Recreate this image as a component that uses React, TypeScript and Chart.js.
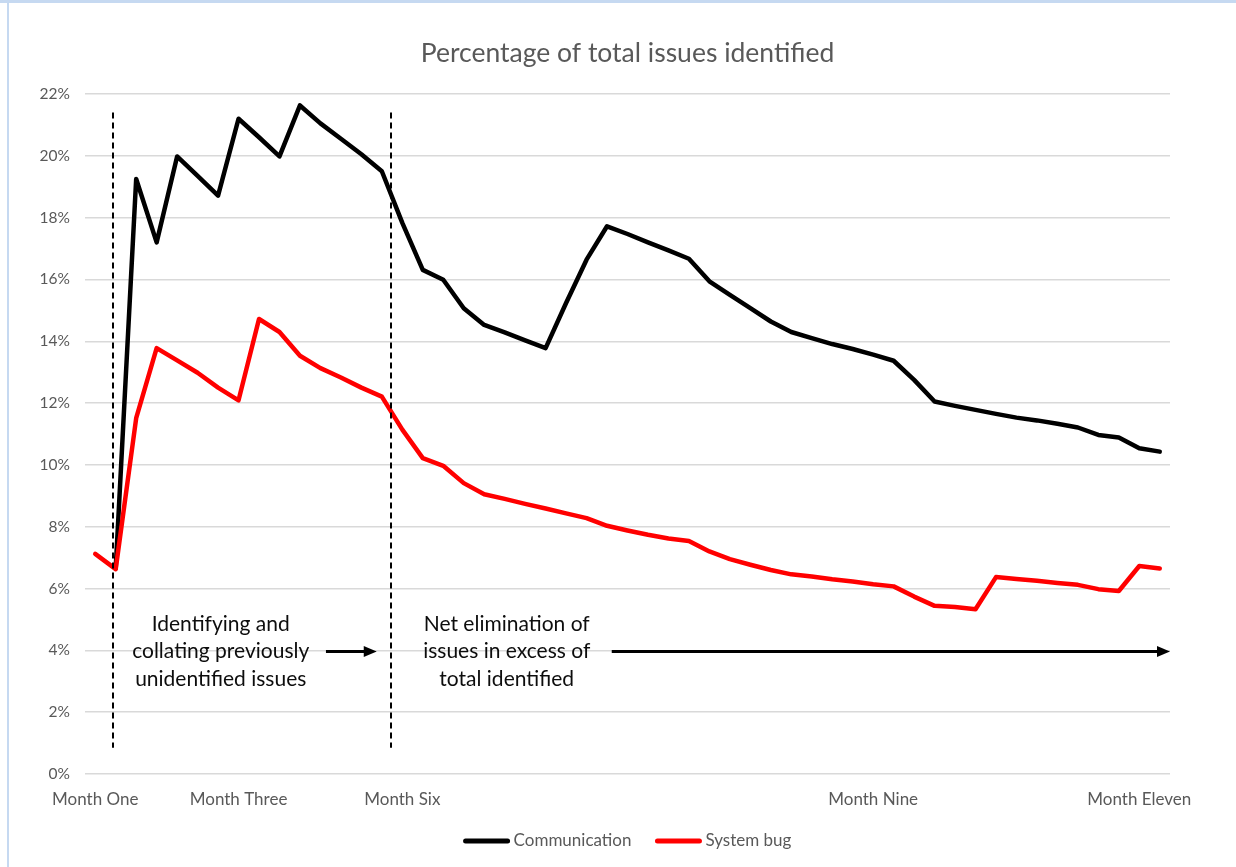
import React, { useEffect, useRef } from "react";
import { Chart, registerables } from "chart.js";

Chart.register(...registerables);

const FONT = "Lato, 'Open Sans', sans-serif";

const chartTitle = "Percentage of total issues identified";

const categories = [
  "Month One", "", "", "", "", "", "", "Month Three", "", "", "",
  "", "", "", "", "Month Six", "", "", "", "", "", "",
  "", "", "", "", "", "", "", "", "", "",
  "", "", "", "", "", "", "Month Nine", "", "", "",
  "", "", "", "", "", "", "", "", "", "Month Eleven", "",
];

const communication = [
  null, 6.65, 19.25, 17.2, 19.98, 19.35, 18.71, 21.2, 20.6, 19.98,
  21.63, 21.05, 20.55, 20.05, 19.5, 17.83, 16.31, 15.99, 15.07, 14.53,
  14.29, 14.03, 13.78, 15.24, 16.64, 17.72, 17.47, 17.2, 16.94, 16.67,
  15.94, 15.5, 15.07, 14.64, 14.3, 14.1, 13.91, 13.75, 13.57, 13.37,
  12.75, 12.05, 11.91, 11.78, 11.65, 11.53, 11.44, 11.33, 11.21, 10.97,
  10.89, 10.54, 10.43,
];

const systemBug = [
  7.12, 6.63, 11.51, 13.78, 13.38, 12.98, 12.5, 12.09, 14.72, 14.3,
  13.53, 13.13, 12.83, 12.5, 12.21, 11.14, 10.22, 9.97, 9.41, 9.05,
  8.9, 8.74, 8.59, 8.43, 8.28, 8.03, 7.88, 7.74, 7.62, 7.54,
  7.2, 6.95, 6.77, 6.6, 6.46, 6.39, 6.3, 6.23, 6.14, 6.07,
  5.74, 5.44, 5.4, 5.33, 6.37, 6.31, 6.25, 6.18, 6.12, 5.98,
  5.92, 6.73, 6.65,
];

const seriesNames = ["Communication", "System bug"];
const seriesColors = ["#000000", "#ff0000"];

const yMin = 0;
const yMax = 22;
const yStep = 2;

// annotations, in data coordinates (category index, percent)
const dividers = [
  { at: 0.885, from: 21.4, to: 0.85 },
  { at: 14.44, from: 21.4, to: 0.85 },
];
const arrows = [
  { from: 11.27, to: 13.75, value: 3.96 },
  { from: 25.23, to: 52.5, value: 3.96 },
];
const notes = [
  { at: 6.13, value: 3.96, lines: ["Identifying and", "collating previously", "unidentified issues"] },
  { at: 20.1, value: 3.96, lines: ["Net elimination of", "issues in excess of", "total identified"] },
];

const annotationPlugin = {
  id: "annotationsAndFrame",
  afterDatasetsDraw(chart: any) {
    const { ctx } = chart;
    const x = chart.scales.x;
    const y = chart.scales.y;
    ctx.save();
    // dashed dividers
    ctx.setLineDash([6, 4]);
    ctx.lineWidth = 2;
    ctx.strokeStyle = "#000";
    for (const d of dividers) {
      const px = Math.round(x.getPixelForValue(d.at));
      ctx.beginPath();
      ctx.moveTo(px, y.getPixelForValue(d.from));
      ctx.lineTo(px, y.getPixelForValue(d.to));
      ctx.stroke();
    }
    ctx.setLineDash([]);
    // arrows
    for (const a of arrows) {
      const x0 = x.getPixelForValue(a.from);
      const x1 = x.getPixelForValue(a.to);
      const py = y.getPixelForValue(a.value);
      const head = 13;
      ctx.lineWidth = 3;
      ctx.strokeStyle = "#000";
      ctx.beginPath();
      ctx.moveTo(x0, py);
      ctx.lineTo(x1 - head + 1, py);
      ctx.stroke();
      ctx.fillStyle = "#000";
      ctx.beginPath();
      ctx.moveTo(x1, py);
      ctx.lineTo(x1 - head, py - 5.5);
      ctx.lineTo(x1 - head, py + 5.5);
      ctx.closePath();
      ctx.fill();
    }
    // notes
    ctx.fillStyle = "#0d0d0d";
    ctx.font = `21px ${FONT}`;
    ctx.textAlign = "center";
    ctx.textBaseline = "middle";
    const lh = 27.5;
    for (const n of notes) {
      const px = x.getPixelForValue(n.at);
      const py = y.getPixelForValue(n.value);
      n.lines.forEach((t, i) => {
        ctx.fillText(t, px, py + (i - 1) * lh);
      });
    }
    ctx.restore();
  },
  afterDraw(chart: any) {
    const { ctx, chartArea } = chart;
    const cx = (chartArea.left + chartArea.right) / 2;
    ctx.save();
    // title
    ctx.fillStyle = "#595959";
    ctx.font = `26.5px ${FONT}`;
    ctx.textAlign = "center";
    ctx.textBaseline = "middle";
    ctx.fillText(chartTitle, cx, chartArea.top - 41);
    // legend
    ctx.font = `17px ${FONT}`;
    const sample = 46;
    const gap = 4;
    const between = 24;
    const items = chart.data.datasets.map((ds: any) => ({
      label: ds.label,
      color: ds.borderColor,
      w: sample + gap + ctx.measureText(ds.label).width,
    }));
    const total = items.reduce((s: number, it: any) => s + it.w, 0) + between * (items.length - 1);
    let lx = cx - total / 2;
    const ly = chartArea.bottom + 67;
    ctx.textAlign = "left";
    for (const it of items) {
      ctx.strokeStyle = it.color;
      ctx.lineWidth = 5;
      ctx.lineCap = "round";
      ctx.beginPath();
      ctx.moveTo(lx + 2, ly);
      ctx.lineTo(lx + sample - 2, ly);
      ctx.stroke();
      ctx.fillStyle = "#595959";
      ctx.fillText(it.label, lx + sample + gap, ly);
      lx += it.w + between;
    }
    ctx.restore();
  },
};

export default function App() {
  const canvasRef = useRef<HTMLCanvasElement | null>(null);

  useEffect(() => {
    const canvas = canvasRef.current;
    if (!canvas) return;
    const chart = new Chart(canvas, {
      type: "line",
      data: {
        labels: categories,
        datasets: [
          {
            label: seriesNames[0],
            data: communication,
            borderColor: seriesColors[0],
            backgroundColor: seriesColors[0],
            borderWidth: 4.5,
            pointRadius: 0,
            tension: 0,
            borderJoinStyle: "round",
            borderCapStyle: "round",
            order: 1,
          },
          {
            label: seriesNames[1],
            data: systemBug,
            borderColor: seriesColors[1],
            backgroundColor: seriesColors[1],
            borderWidth: 4.5,
            pointRadius: 0,
            tension: 0,
            borderJoinStyle: "round",
            borderCapStyle: "round",
            order: 0,
          },
        ],
      },
      options: {
        animation: false,
        responsive: false,
        devicePixelRatio: 1,
        layout: { padding: { top: 94, right: 66, bottom: 0, left: 0 } },
        plugins: {
          legend: { display: false },
          title: { display: false },
          tooltip: { enabled: false },
        },
        scales: {
          x: {
            type: "category",
            offset: true,
            grid: { display: false, drawTicks: false },
            border: { display: false },
            ticks: {
              autoSkip: false,
              maxRotation: 0,
              minRotation: 0,
              padding: 15,
              color: "#595959",
              font: { family: FONT, size: 17 },
            },
            afterFit: (s: any) => {
              s.height = 93;
            },
          },
          y: {
            min: yMin,
            max: yMax,
            grid: { color: "#d9d9d9", lineWidth: 1.5, drawTicks: false },
            border: { display: false },
            ticks: {
              stepSize: yStep,
              padding: 15,
              color: "#595959",
              font: { family: FONT, size: 15.5 },
              callback: (v: any) => `${v}%`,
            },
            afterFit: (s: any) => {
              s.width = 85;
            },
          },
        },
      },
      plugins: [annotationPlugin],
    } as any);
    return () => chart.destroy();
  }, []);

  return (
    <div
      style={{
        position: "fixed",
        left: 0,
        top: 0,
        width: 1236,
        height: 867,
        background: "#ffffff",
        overflow: "hidden",
      }}
    >
      <div style={{ position: "absolute", left: 0, top: 0, width: 1236, height: 3, background: "#c6d9f1" }} />
      <div style={{ position: "absolute", left: 7, top: 3, width: 2, height: 864, background: "#c6d9f1" }} />
      <canvas
        ref={canvasRef}
        width={1236}
        height={867}
        style={{ position: "absolute", left: 0, top: 0, width: 1236, height: 867 }}
      />
    </div>
  );
}
